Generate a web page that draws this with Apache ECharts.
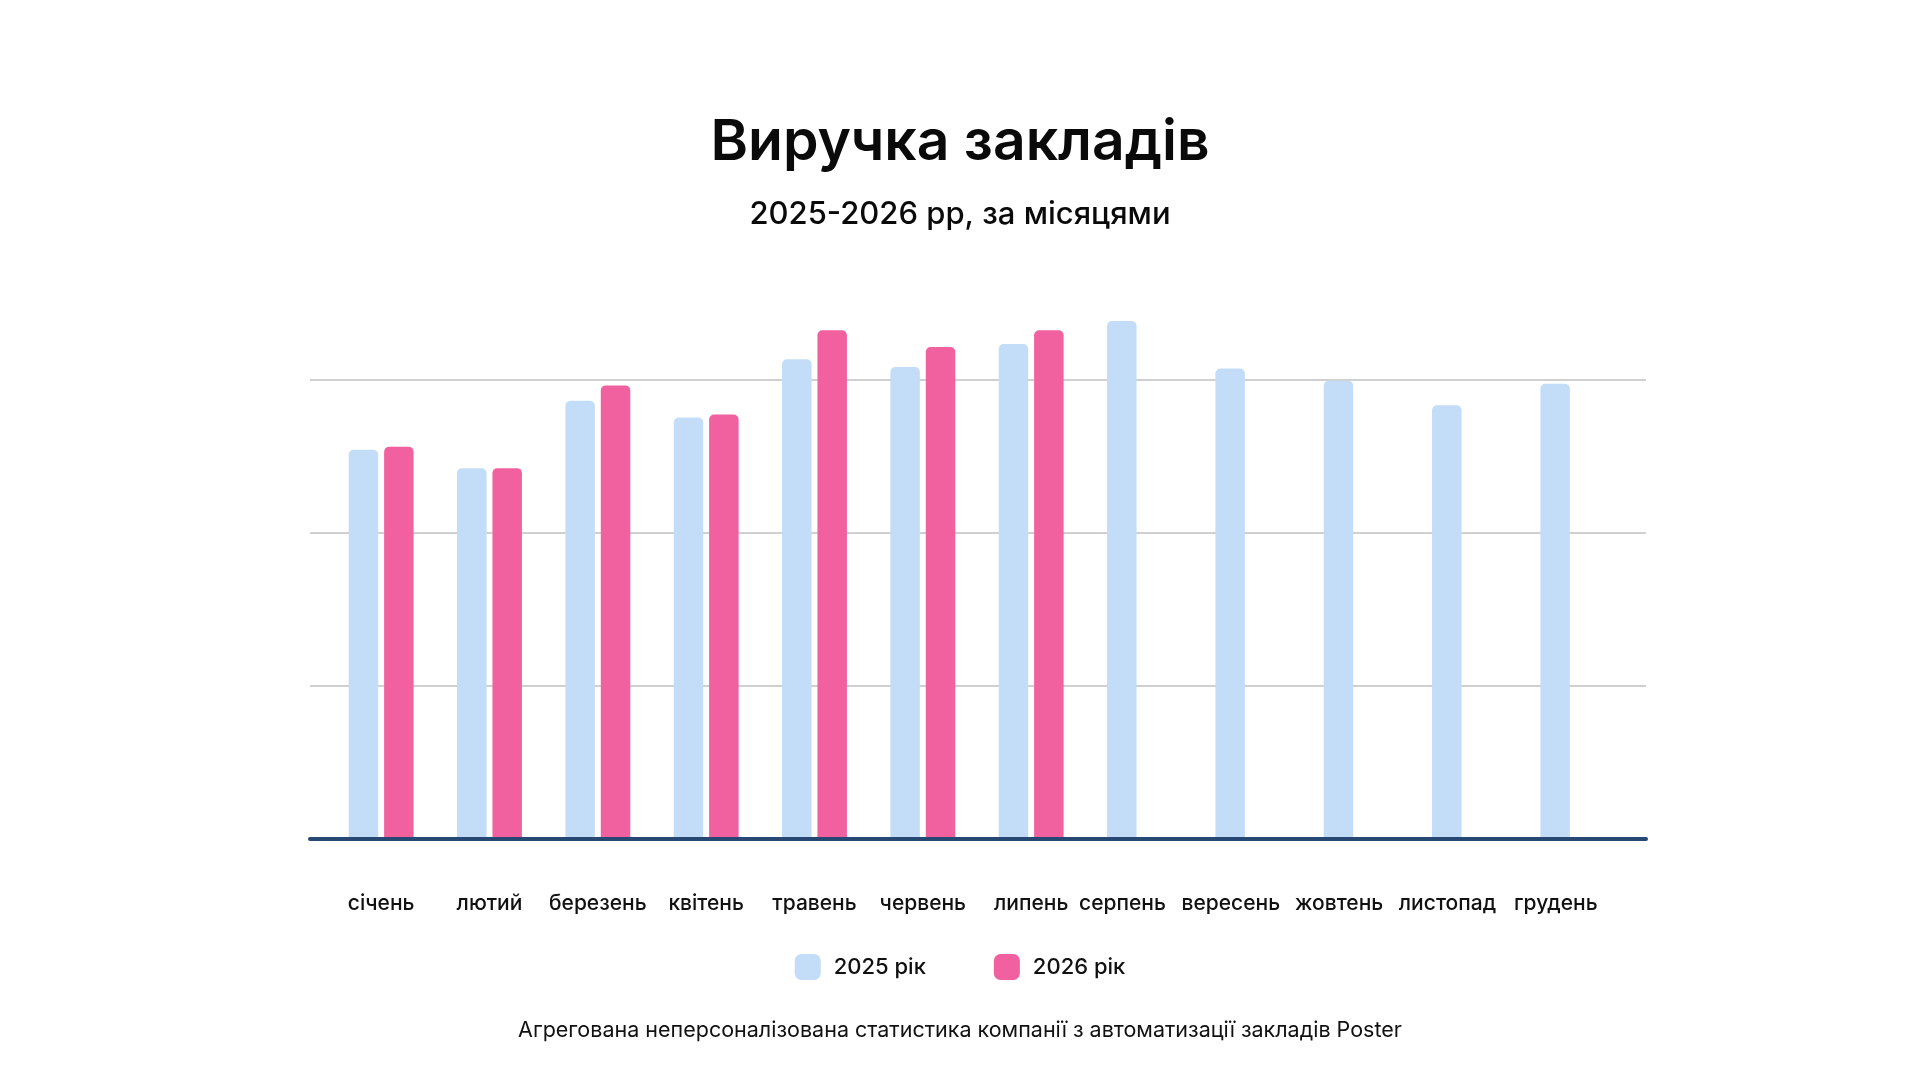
<!DOCTYPE html>
<html>
<head>
<meta charset="utf-8">
<title>Виручка закладів</title>
<script src="https://cdn.jsdelivr.net/npm/echarts@6/dist/echarts.min.js"></script>
<style>
  html, body { margin: 0; padding: 0; background: #fff; }
  #main { width: 1920px; height: 1080px; }
</style>
</head>
<body>
<div id="main"></div>
<script>
// місяці
const months = ['січень', 'лютий', 'березень', 'квітень', 'травень', 'червень',
  'липень', 'серпень', 'вересень', 'жовтень', 'листопад', 'грудень']
// виручка, умовні одиниці (одна лінія сітки = 10)
const revenue2025 = [25.4, 24.2, 28.6, 27.5, 31.3, 30.8, 32.3, 33.8, 30.7, 29.9, 28.3, 29.7]
const revenue2026 = [25.6, 24.2, 29.6, 27.7, 33.2, 32.1, 33.2, null, null, null, null, null]
const seriesNames = ['2025 рік', '2026 рік']

const FONT = 'Inter, "Noto Sans", sans-serif'
const BLUE = '#c3ddf8'
const PINK = '#f2619f'

const myChart = echarts.init(document.getElementById('main'))

const option = {
  backgroundColor: '#ffffff',
  textStyle: { fontFamily: FONT },
  title: [
    {
      text: 'Виручка закладів',
      left: 'center',
      top: 109,
      textStyle: { fontSize: 57, fontWeight: 600, color: '#0a0a0a', fontFamily: FONT }
    },
    {
      text: '2025-2026 рр, за місяцями',
      left: 'center',
      top: 194,
      textStyle: { fontSize: 31, fontWeight: 500, color: '#0a0a0a', fontFamily: FONT }
    },
    {
      text: 'Агрегована неперсоналізована статистика компанії з автоматизації закладів Poster',
      left: 'center',
      top: 1015,
      textStyle: { fontSize: 21.5, fontWeight: 400, color: '#111', fontFamily: FONT }
    }
  ],
  legend: {
    data: seriesNames,
    left: 'center',
    top: 949,
    icon: 'roundRect',
    itemWidth: 26,
    itemHeight: 26,
    itemGap: 68,
    textStyle: { fontSize: 22, fontWeight: 500, color: '#111', fontFamily: FONT, padding: [0, 0, 0, 8] }
  },
  grid: [
    // сітка з лініями
    { left: 310, right: 274, top: 226, bottom: 241 },
    // стовпчики
    { left: 327, right: 293, top: 226, bottom: 241 }
  ],
  xAxis: [
    {
      gridIndex: 0,
      type: 'value',
      min: 0,
      max: 1,
      z: 5,
      axisLine: { show: true, lineStyle: { color: '#274872', width: 4 } },
      axisTick: { show: false },
      axisLabel: { show: false },
      splitLine: { show: false }
    },
    {
      gridIndex: 1,
      type: 'category',
      data: months,
      axisLine: { show: false },
      axisTick: { show: false },
      axisLabel: {
        interval: 0,
        margin: 54,
        fontSize: 21,
        fontWeight: 500,
        color: '#111',
        fontFamily: FONT,
        formatter: function (value, index) {
          // місяці без даних 2026 підписані під стовпчиком 2025
          return revenue2026[index] == null ? '{a|' + value + '}' : '{b|' + value + '}'
        },
        rich: {
          a: { fontSize: 21, fontWeight: 500, color: '#111', fontFamily: FONT, padding: [0, 34, 0, 0] },
          b: { fontSize: 21, fontWeight: 500, color: '#111', fontFamily: FONT }
        }
      }
    }
  ],
  yAxis: [
    {
      gridIndex: 0,
      type: 'value',
      min: 0,
      max: 40,
      interval: 10,
      axisLine: { show: false },
      axisTick: { show: false },
      axisLabel: { show: false },
      splitLine: {
        show: true,
        showMinLine: false,
        showMaxLine: false,
        lineStyle: { color: '#d0d0d0', width: 2 }
      }
    },
    {
      gridIndex: 1,
      type: 'value',
      min: 0,
      max: 40,
      interval: 10,
      axisLine: { show: false },
      axisTick: { show: false },
      axisLabel: { show: false },
      splitLine: { show: false }
    }
  ],
  series: [
    {
      name: seriesNames[0],
      type: 'bar',
      xAxisIndex: 1,
      yAxisIndex: 1,
      data: revenue2025,
      barWidth: 29.5,
      barGap: '20%',
      itemStyle: { color: BLUE, borderRadius: [5, 5, 0, 0] }
    },
    {
      name: seriesNames[1],
      type: 'bar',
      xAxisIndex: 1,
      yAxisIndex: 1,
      data: revenue2026,
      barWidth: 29.5,
      barGap: '20%',
      itemStyle: { color: PINK, borderRadius: [5, 5, 0, 0] }
    }
  ]
}

myChart.setOption(option)
</script>
</body>
</html>
